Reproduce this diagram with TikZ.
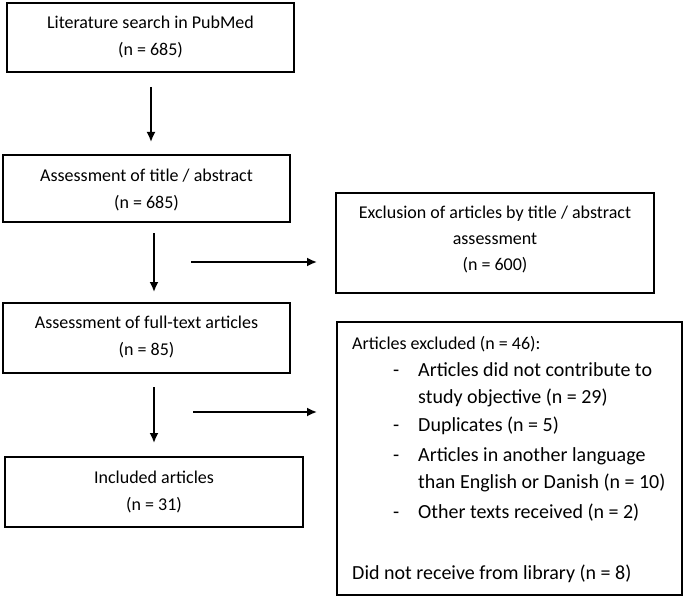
\documentclass[tikz,border=0pt]{standalone}
\usepackage{fontspec}
\setmainfont{Carlito}
\usetikzlibrary{arrows.meta}
\begin{document}
\begin{tikzpicture}[x=1pt,y=-1pt,
  box/.style={draw, line width=1.8pt, inner sep=0pt},
  arr/.style={-{Latex[length=10pt,width=9pt]}, line width=1.8pt},
  txt/.style={font=\fontsize{18}{27}\selectfont, align=center, inner sep=0pt},
  big/.style={font=\fontsize{20}{28}\selectfont, anchor=base west, inner sep=0pt},
  small/.style={font=\fontsize{18}{27}\selectfont, anchor=base west, inner sep=0pt}]
\useasboundingbox (0,0) rectangle (685,599);
% boxes
\node[box, minimum width=287, minimum height=69] (b1) at (150.5,37.5) {};
\node[box, minimum width=287, minimum height=67] (b2) at (146.5,188.5) {};
\node[box, minimum width=287, minimum height=70] (b3) at (146.5,338) {};
\node[box, minimum width=298, minimum height=70] (b4) at (154,492) {};
\node[box, minimum width=318, minimum height=100] (b5) at (495,243) {};
\node[box, minimum width=345, minimum height=273] (b6) at (509.5,458.5) {};
% box texts
\node[txt] (t1) at (150.5,37) {Literature search in PubMed\\(n = 685)};
\node[txt] (t2) at (146.5,190) {Assessment of title / abstract\\(n = 685)};
\node[txt] (t3) at (146.5,336.5) {Assessment of full-text articles\\(n = 85)};
\node[txt] (t4) at (154,492) {Included articles\\(n = 31)};
\node[txt, font=\fontsize{18}{26}\selectfont] (t5) at (495,239.5) {Exclusion of articles by title / abstract\\assessment\\(n = 600)};
% list box
\node[small] (h6) at (352,349) {Articles excluded (n = 46):};
\node[big] (d1) at (393,376.5) {-};
\node[big] (i1) at (418,376.5) {Articles did not contribute to};
\node[big] (i1b) at (418,403.5) {study objective (n = 29)};
\node[big] (d2) at (393,431.5) {-};
\node[big] (i2) at (418,431.5) {Duplicates (n = 5)};
\node[big] (d3) at (393,461) {-};
\node[big] (i3) at (418,461) {Articles in another language};
\node[big] (i3b) at (418,488.5) {than English or Danish (n = 10)};
\node[big] (d4) at (393,518) {-};
\node[big] (i4) at (418,518) {Other texts received (n = 2)};
\node[big] (l6) at (352,579) {Did not receive from library (n = 8)};
% arrow ends
\coordinate (a1s) at (151,87);  \coordinate (a1e) at (151,142);
\coordinate (a2s) at (154,233); \coordinate (a2e) at (154,292);
\coordinate (h1s) at (191,262); \coordinate (h1e) at (317,262);
\coordinate (a3s) at (154,387); \coordinate (a3e) at (154,443);
\coordinate (h2s) at (193,412); \coordinate (h2e) at (317,412);
\draw[arr] (a1s) -- (a1e);
\draw[arr] (a2s) -- (a2e);
\draw[arr] (h1s) -- (h1e);
\draw[arr] (a3s) -- (a3e);
\draw[arr] (h2s) -- (h2e);
\end{tikzpicture}
\end{document}
